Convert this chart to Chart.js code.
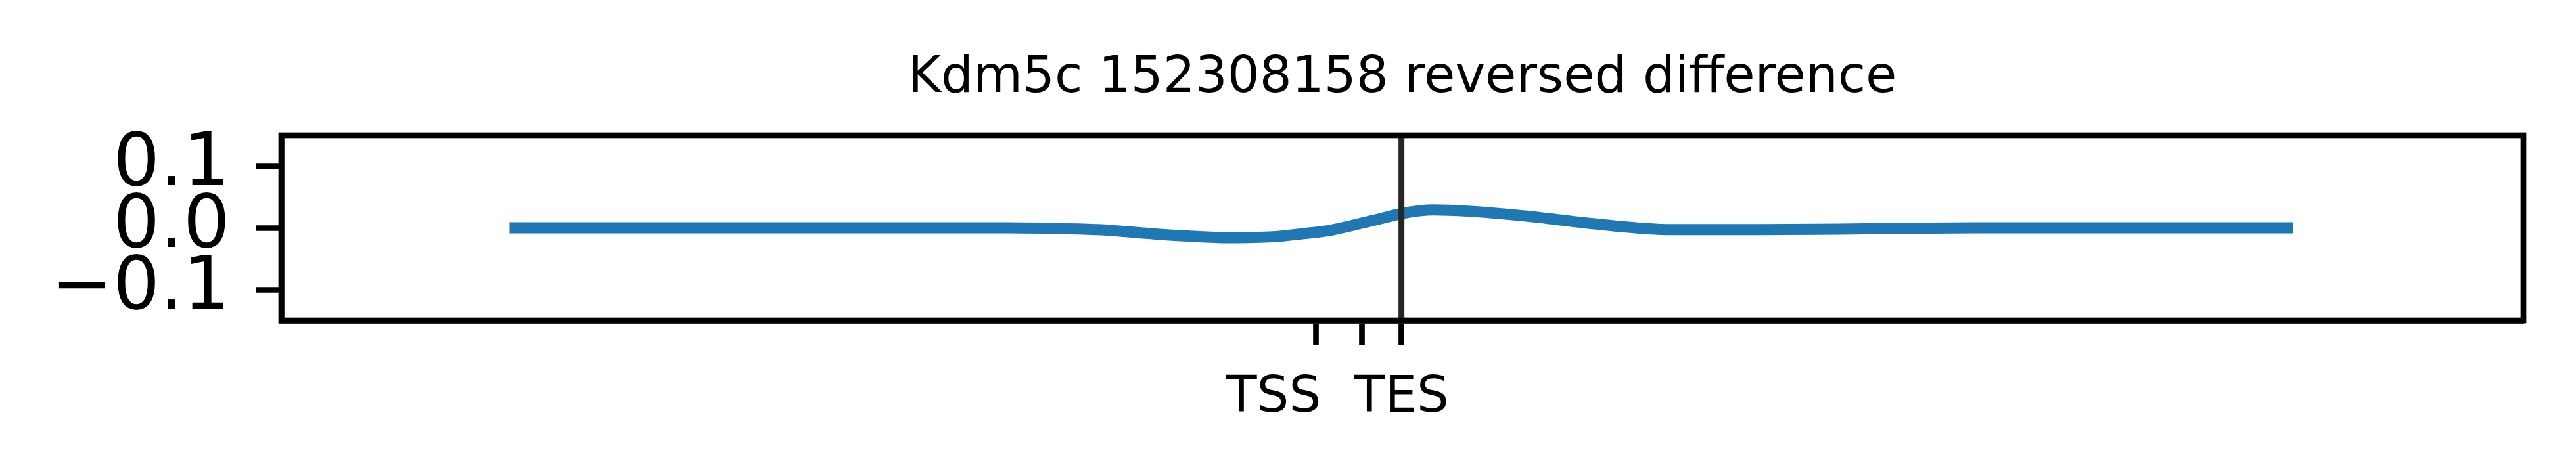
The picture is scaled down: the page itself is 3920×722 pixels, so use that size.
<!DOCTYPE html>
<html>
<head>
<meta charset="utf-8">
<script src="https://cdn.jsdelivr.net/npm/chart.js@4"></script>
<style>
  html, body { margin: 0; padding: 0; background: #fff; }
  canvas { display: block; }
</style>
</head>
<body>
<canvas id="diffChart" width="3920" height="722"></canvas>
<script>
// positions along the region (0 = start of window, 1000 = end)
const xPos = [0, 100, 200, 280, 305, 330, 362, 385, 403, 428, 445, 460, 475, 488, 500, 510, 518, 537, 570, 603, 636, 652, 700, 746, 822, 900, 1000];
// reversed difference values
const diffY = [0, 0, 0, 0, -0.001, -0.003, -0.010, -0.014, -0.016, -0.0145, -0.0095, -0.004, 0.0055, 0.0147, 0.023, 0.0275, 0.029, 0.027, 0.019, 0.008, -0.001, -0.003, -0.003, -0.002, 0, 0, 0];

// gene markers and tick labels
const xTickPos = [452, 478, 500];
const xTickLabels = ["TSS", "", "TES"];
const xTickAlign = ["right", "center", "center"];
const tesPos = 500;

const yTicks = [-0.1, 0, 0.1];
const yMin = -0.15;
const yMax = 0.15;
const xMin = -128;
const xMax = 1129;

const chartTitle = "Kdm5c 152308158 reversed difference";
const FONT = '"DejaVu Sans", sans-serif';

// frame, title and x labels
const decorPlugin = {
  id: "decor",
  afterDraw(chart) {
    const { ctx, chartArea } = chart;
    const xs = chart.scales.x;
    ctx.save();
    ctx.strokeStyle = "#000";
    ctx.lineWidth = 8.7;
    ctx.strokeRect(chartArea.left, chartArea.top, chartArea.right - chartArea.left, chartArea.bottom - chartArea.top);

    ctx.fillStyle = "#000";
    ctx.font = "77px " + FONT;
    ctx.textBaseline = "alphabetic";
    ctx.textAlign = "center";
    ctx.fillText(chartTitle, (chartArea.left + chartArea.right) / 2, 140);

    xTickPos.forEach((v, i) => {
      if (!xTickLabels[i]) return;
      const px = xs.getPixelForValue(v);
      ctx.textAlign = xTickAlign[i];
      ctx.fillText(xTickLabels[i], xTickAlign[i] === "right" ? px + 8 : px, 627);
    });
    ctx.restore();
  },
};

const ctx = document.getElementById("diffChart").getContext("2d");

new Chart(ctx, {
  type: "line",
  data: {
    datasets: [
      {
        label: "TES",
        data: [{ x: tesPos, y: yMin }, { x: tesPos, y: yMax }],
        borderColor: "#262626",
        borderWidth: 9,
        pointRadius: 0,
        tension: 0,
      },
      {
        label: "difference",
        data: xPos.map((x, i) => ({ x: x, y: diffY[i] })),
        borderColor: "#1f77b4",
        borderWidth: 17,
        pointRadius: 0,
        cubicInterpolationMode: "monotone",
        borderJoinStyle: "round",
        fill: false,
      },
    ],
  },
  options: {
    responsive: false,
    animation: false,
    devicePixelRatio: 1,
    layout: {
      padding: { top: 206, right: 80, bottom: 0, left: 0 },
    },
    plugins: {
      legend: { display: false },
      tooltip: { enabled: false },
      title: { display: false },
    },
    scales: {
      x: {
        type: "linear",
        min: xMin,
        max: xMax,
        afterBuildTicks: (scale) => {
          scale.ticks = xTickPos.map((v) => ({ value: v }));
        },
        afterFit: (scale) => {
          scale.height = 234;
        },
        ticks: {
          callback: () => "",
          autoSkip: false,
          maxRotation: 0,
          font: { family: FONT, size: 77 },
        },
        grid: {
          drawOnChartArea: false,
          drawTicks: true,
          tickLength: 38,
          tickWidth: 8.7,
          tickColor: "#000",
        },
        border: { display: true, color: "#000", width: 8.7 },
      },
      y: {
        min: yMin,
        max: yMax,
        afterBuildTicks: (scale) => {
          scale.ticks = yTicks.map((v) => ({ value: v }));
        },
        afterFit: (scale) => {
          scale.width = 428;
        },
        ticks: {
          color: "#000",
          padding: 40,
          font: { family: FONT, size: 112 },
          callback: (v) => (v < 0 ? "\u2212" + Math.abs(v).toFixed(1) : v.toFixed(1)),
        },
        grid: {
          drawOnChartArea: false,
          drawTicks: true,
          tickLength: 38,
          tickWidth: 8.7,
          tickColor: "#000",
        },
        border: { display: true, color: "#000", width: 8.7 },
      },
    },
  },
  plugins: [decorPlugin],
});
</script>
</body>
</html>
